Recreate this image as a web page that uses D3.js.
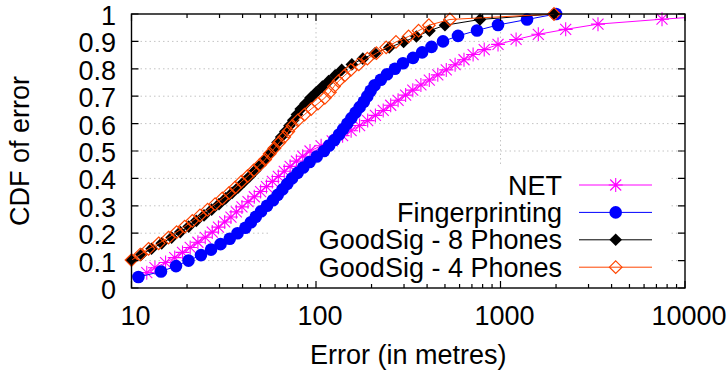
<!DOCTYPE html>
<html><head><meta charset="utf-8">
<script src="https://cdn.jsdelivr.net/npm/d3@7"></script>
<style>
body{margin:0;background:#fff}
text{font-family:"Liberation Sans",Arial,Helvetica,sans-serif;font-size:27px;fill:#000}
</style>
</head><body>
<svg id="chart" width="727" height="375"></svg>
<script>
// ---------- data ----------
const seriesNames = ["NET", "Fingerprinting", "GoodSig - 8 Phones", "GoodSig - 4 Phones"];
const seriesColors = ["#ff00ff", "#0000ff", "#000000", "#ff4500"];

const netError = [12.1,13.4,15.3,17.15,18.9,20.8,22.9,25.1,27.4,29.6,32.0,34.6,37.0,39.7,42.8,46.3,50.1,53.9,58.0,62.5,67.3,72.4,78.3,84.7,92.8,106.6,122.4,139.4,155.0,172.3,190.6,209.9,231.4,254.0,278.6,306.0,334.7,370.3,411.2,457.2,508.3,567.5,634.1,710.5,816.1,969.6,1215,1603,2256,3376,7506,19900];
const netCdf = [0.056,0.074,0.093,0.111,0.130,0.148,0.167,0.185,0.204,0.222,0.241,0.259,0.278,0.296,0.315,0.333,0.352,0.370,0.389,0.407,0.426,0.444,0.463,0.481,0.500,0.519,0.537,0.556,0.574,0.593,0.611,0.630,0.648,0.667,0.685,0.704,0.722,0.741,0.759,0.778,0.796,0.815,0.833,0.852,0.870,0.889,0.907,0.926,0.944,0.963,0.981,1.000];

const fpError = [10.9,14.45,17.43,20.37,23.8,26.98,30.37,34.07,37.55,41.43,44.39,47.17,50.41,54.25,58.45,62.03,65.83,69.86,74.14,79.48,85.25,92.34,100.97,110.5,117.9,125.8,133.4,140.4,147.8,155.6,163.8,172.5,181.6,189.7,197.7,207.8,224.5,242.8,267.7,296.2,335.6,375.9,422.7,488,588.5,745.9,969.6,1393,2000];
const fpCdf = [0.04,0.06,0.08,0.10,0.12,0.14,0.16,0.18,0.20,0.22,0.24,0.26,0.28,0.30,0.32,0.34,0.36,0.38,0.40,0.42,0.44,0.46,0.48,0.50,0.52,0.54,0.56,0.58,0.60,0.62,0.64,0.66,0.68,0.70,0.72,0.74,0.76,0.78,0.80,0.82,0.84,0.86,0.88,0.90,0.92,0.94,0.96,0.98,1.00];

const gs8Error = [10.0,11.32,12.84,14.58,16.5,18.37,20.42,22.45,24.72,27.18,29.8,32.37,35.11,37.88,40.78,43.78,46.84,49.91,53.0,56.12,59.07,61.83,64.76,68.18,71.76,75.26,78.78,82.62,87.85,93.38,100.3,108.3,117.0,127.1,137.8,156.4,179.4,208.9,249.6,298.5,350.1,412.2,500.1,774.3,1950];
const gs4Error = [10.0,11.15,12.37,14.04,15.87,17.56,19.43,21.37,23.51,25.85,28.4,31.06,33.82,36.5,39.38,42.54,45.91,49.53,53.0,56.12,59.52,63.24,67.25,70.78,74.5,79.78,86.64,94.09,102.5,111.7,118.9,125.1,132.4,143.1,154.4,170.6,189.9,212.6,240.1,271.4,317.6,359.8,409.1,532,1950];
const gsCdf = [0.102,0.122,0.143,0.163,0.184,0.204,0.224,0.245,0.265,0.286,0.306,0.327,0.347,0.367,0.388,0.408,0.429,0.449,0.469,0.490,0.510,0.531,0.551,0.571,0.592,0.612,0.633,0.653,0.673,0.694,0.714,0.735,0.755,0.776,0.796,0.816,0.837,0.857,0.878,0.898,0.918,0.939,0.959,0.980,1.000];

const xTickValues = [10, 100, 1000, 10000];
const xTickLabels = ["10", "100", "1000", "10000"];
const yTickValues = [0, 0.1, 0.2, 0.3, 0.4, 0.5, 0.6, 0.7, 0.8, 0.9, 1];
const yTickLabels = ["0", "0.1", "0.2", "0.3", "0.4", "0.5", "0.6", "0.7", "0.8", "0.9", "1"];
const xGridValues = [100, 1000];
const yGridValues = [0.1, 0.2, 0.3, 0.4, 0.5, 0.6, 0.7, 0.8, 0.9];
const xTitle = "Error (in metres)";
const yTitle = "CDF of error";

// ---------- layout ----------
const L = 131.5, R = 685, T = 14, B = 288;
const svg = d3.select("#chart");
const x = d3.scaleLog().domain([10, 10000]).range([L, R]);
const y = d3.scaleLinear().domain([0, 1]).range([B, T]);

svg.append("defs").append("clipPath").attr("id", "plotclip")
  .append("rect").attr("x", L).attr("y", T).attr("width", R - L).attr("height", B - T);

// grid
const grid = svg.append("g").attr("stroke", "#c4c4c4").attr("stroke-width", 1).attr("stroke-dasharray", "1.5,3");
grid.selectAll(".gy").data(yGridValues).join("line")
  .attr("x1", L).attr("x2", R).attr("y1", d => y(d)).attr("y2", d => y(d));
grid.selectAll(".gx").data(xGridValues).join("line")
  .attr("x1", d => x(d)).attr("x2", d => x(d)).attr("y1", T).attr("y2", B);

// opaque key box
svg.append("rect").attr("x", 268).attr("y", 167).attr("width", 402).attr("height", 117).attr("fill", "#fff");

// symbols
function symbolPath(k, s) {
  if (k === 0) { const h = 7, d = 5.5; return `M${-h},0H${h}M0,${-h}V${h}M${-d},${-d}L${d},${d}M${-d},${d}L${d},${-d}`; }
  if (k === 2 || k === 3) { const h = 6.3; return `M0,${-h}L${h},0L0,${h}L${-h},0Z`; }
  return null;
}
function drawMarker(g, k, cx, cy) {
  const col = seriesColors[k];
  if (k === 1) {
    g.append("circle").attr("cx", cx).attr("cy", cy).attr("r", 6.3).attr("fill", col);
  } else if (k === 0) {
    g.append("path").attr("d", symbolPath(0)).attr("transform", `translate(${cx},${cy})`)
      .attr("stroke", col).attr("stroke-width", 1.1).attr("fill", "none");
  } else if (k === 2) {
    g.append("path").attr("d", symbolPath(2)).attr("transform", `translate(${cx},${cy})`).attr("fill", col);
  } else {
    g.append("path").attr("d", symbolPath(3)).attr("transform", `translate(${cx},${cy})`)
      .attr("fill", "none").attr("stroke", col).attr("stroke-width", 1.2);
  }
}

const series = [
  { err: netError, cdf: netCdf },
  { err: fpError, cdf: fpCdf },
  { err: gs8Error, cdf: gsCdf },
  { err: gs4Error, cdf: gsCdf }
];
const line = d3.line().x(d => x(d[0])).y(d => y(d[1]));
series.forEach((s, k) => {
  const pts = s.err.map((e, i) => [e, s.cdf[i]]);
  const g = svg.append("g");
  g.append("path").attr("d", line(pts)).attr("fill", "none").attr("stroke", seriesColors[k])
    .attr("stroke-width", 1).attr("clip-path", "url(#plotclip)");
  pts.filter(p => p[0] >= 10 && p[0] <= 10000).forEach(p => drawMarker(g, k, x(p[0]), y(p[1])));
});

// frame
svg.append("rect").attr("x", L).attr("y", T).attr("width", R - L).attr("height", B - T)
  .attr("fill", "none").attr("stroke", "#000").attr("stroke-width", 1.4);

// ticks
const ticks = svg.append("g").attr("stroke", "#000").attr("stroke-width", 1.2);
const minor = [];
[10, 100, 1000].forEach(dec => { for (let m = 2; m <= 9; m++) minor.push(dec * m); });
ticks.selectAll(".xM").data(xTickValues).join("path")
  .attr("d", d => `M${x(d)},${B}v-7M${x(d)},${T}v7`);
ticks.selectAll(".xm").data(minor).join("path")
  .attr("d", d => `M${x(d)},${B}v-4M${x(d)},${T}v4`);
ticks.selectAll(".yM").data(yTickValues).join("path")
  .attr("d", d => `M${L},${y(d)}h7M${R},${y(d)}h-7`);

// tick labels
svg.selectAll(".xl").data(xTickValues).join("text")
  .attr("x", d => x(d) + 4).attr("y", 325).attr("text-anchor", "middle")
  .text((d, i) => xTickLabels[i]);
svg.selectAll(".yl").data(yTickValues).join("text")
  .attr("x", 116).attr("y", d => y(d) + 11).attr("text-anchor", "end")
  .text((d, i) => yTickLabels[i]);

// axis titles
svg.append("text").attr("x", (L + R) / 2).attr("y", 364).attr("text-anchor", "middle").text(xTitle);
svg.append("text").attr("transform", `translate(28.5,${(T + B) / 2}) rotate(-90)`)
  .attr("text-anchor", "middle").text(yTitle);

// legend
const rowY = [185, 212.4, 239.8, 267.2];
seriesNames.forEach((name, k) => {
  const g = svg.append("g");
  g.append("text").attr("x", 562).attr("y", rowY[k] + 9.5).attr("text-anchor", "end").text(name);
  g.append("line").attr("x1", 579).attr("x2", 652).attr("y1", rowY[k]).attr("y2", rowY[k])
    .attr("stroke", seriesColors[k]).attr("stroke-width", 1);
  drawMarker(g, k, 615.7, rowY[k]);
});
</script>
</body></html>
